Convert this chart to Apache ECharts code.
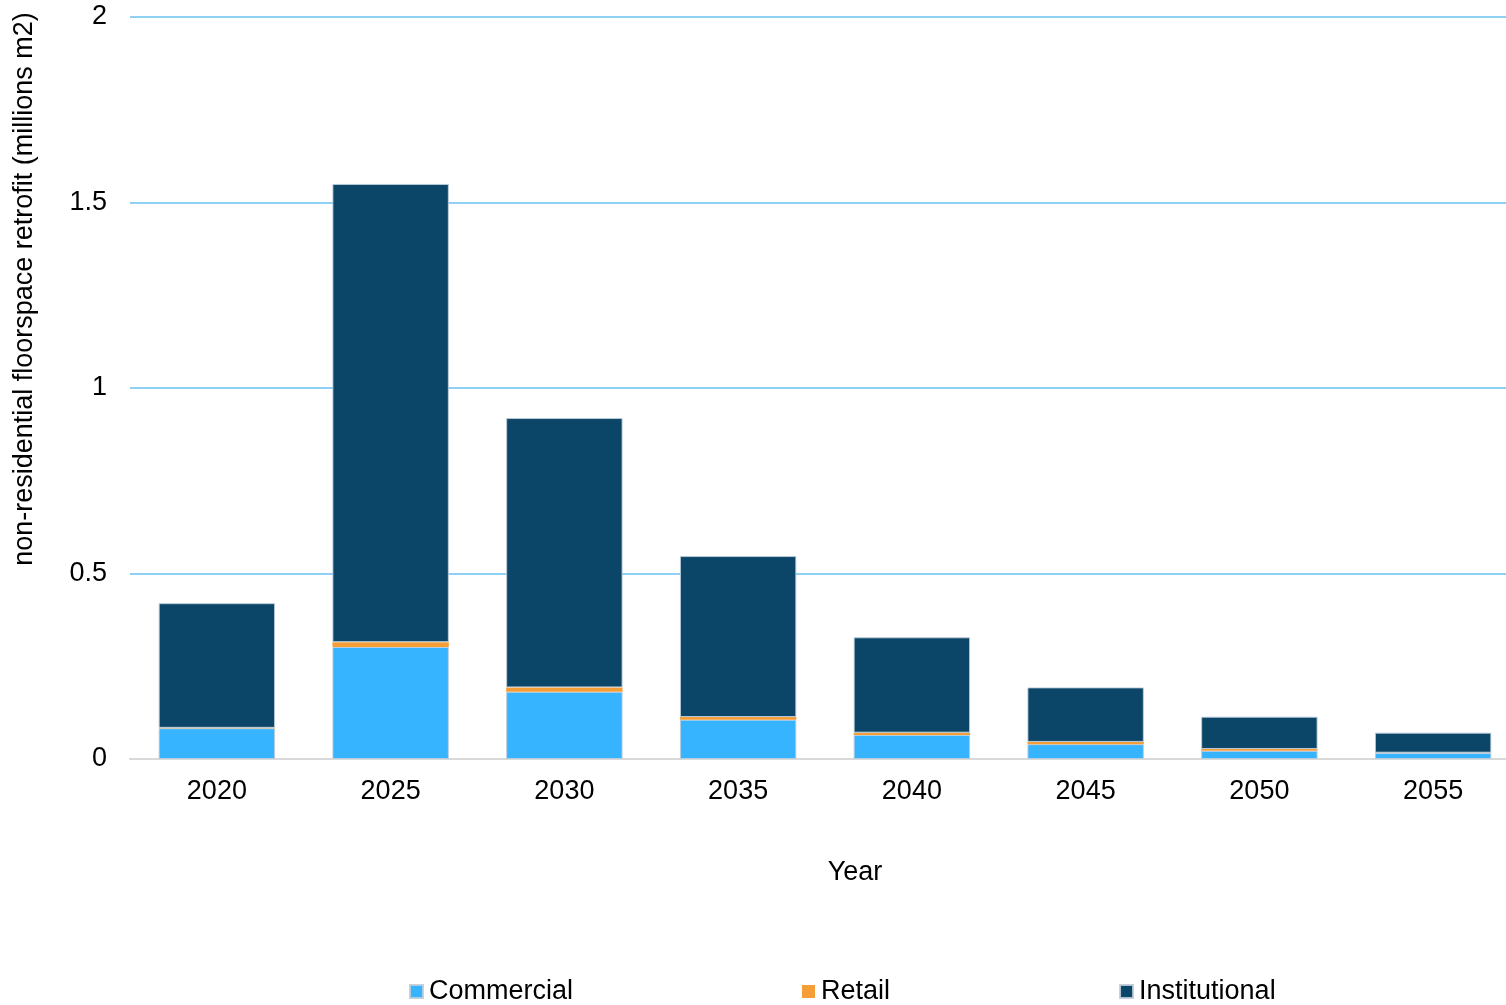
<!DOCTYPE html>
<html>
<head>
<meta charset="utf-8">
<script src="https://cdn.jsdelivr.net/npm/echarts@6/dist/echarts.min.js"></script>
<style>
  html, body { margin: 0; padding: 0; background: #fff; }
  #chart { width: 1506px; height: 1005px; }
</style>
</head>
<body>
<div id="chart"></div>
<script>
const years = ["2020", "2025", "2030", "2035", "2040", "2045", "2050", "2055"];
const commercial = [0.083, 0.302, 0.181, 0.106, 0.065, 0.040, 0.022, 0.016];
const retail = [0.001, 0.013, 0.012, 0.007, 0.006, 0.006, 0.005, 0.001];
const totals = [0.420, 1.550, 0.919, 0.547, 0.328, 0.193, 0.114, 0.071];
const institutional = totals.map((t, i) => +(t - commercial[i] - retail[i]).toFixed(3));
const yTicks = [0, 0.5, 1, 1.5, 2];

const font = "'Liberation Sans', Arial, sans-serif";
const border = { borderColor: "rgba(190,205,218,0.9)", borderWidth: 1 };

const chart = echarts.init(document.getElementById("chart"));
chart.setOption({
  animation: false,
  backgroundColor: "#fff",
  textStyle: { fontFamily: font },
  // the plot runs a little past the right edge of the page, as in the original
  grid: { left: 130, width: 1390, top: 17, bottom: 246, outerBoundsMode: "none" },
  legend: {
    left: 404,
    top: 973,
    itemWidth: 13,
    itemHeight: 13,
    itemGap: 229,
    icon: "rect",
    textStyle: { fontFamily: font, fontSize: 27, color: "#000", padding: [0, 0, 0, 1] },
    data: ["Commercial", "Retail", "Institutional"],
  },
  xAxis: {
    type: "category",
    data: years,
    axisTick: { show: false },
    axisLine: { lineStyle: { color: "#d9d9d9", width: 2 } },
    axisLabel: { color: "#000", fontSize: 27, margin: 19, fontFamily: font },
  },
  yAxis: {
    type: "value",
    min: 0,
    max: 2,
    interval: 0.5,
    axisLine: { show: false },
    axisTick: { show: false },
    axisLabel: {
      color: "#000",
      fontSize: 27,
      margin: 23,
      fontFamily: font,
      formatter: (v) => (yTicks.includes(v) ? String(v) : ""),
    },
    splitLine: { lineStyle: { color: "#8fd0f5", width: 2 } },
  },
  graphic: [
    {
      type: "text",
      x: 25,
      y: 289,
      rotation: Math.PI / 2,
      style: {
        text: "non-residential floorspace retrofit (millions m2)",
        fontFamily: font,
        fontSize: 27,
        fill: "#000",
        align: "center",
        verticalAlign: "middle",
      },
    },
    {
      type: "text",
      x: 855,
      y: 873,
      style: {
        text: "Year",
        fontFamily: font,
        fontSize: 27,
        fill: "#000",
        align: "center",
        verticalAlign: "middle",
      },
    },
  ],
  series: [
    {
      name: "Commercial",
      type: "bar",
      stack: "total",
      barCategoryGap: "33%",
      data: commercial,
      itemStyle: Object.assign({ color: "#36b4ff" }, border),
    },
    {
      name: "Retail",
      type: "bar",
      stack: "total",
      data: retail,
      itemStyle: { color: "#f59e38" },
    },
    {
      name: "Institutional",
      type: "bar",
      stack: "total",
      data: institutional,
      itemStyle: Object.assign({ color: "#0b4668" }, border),
    },
  ],
});
</script>
</body>
</html>
